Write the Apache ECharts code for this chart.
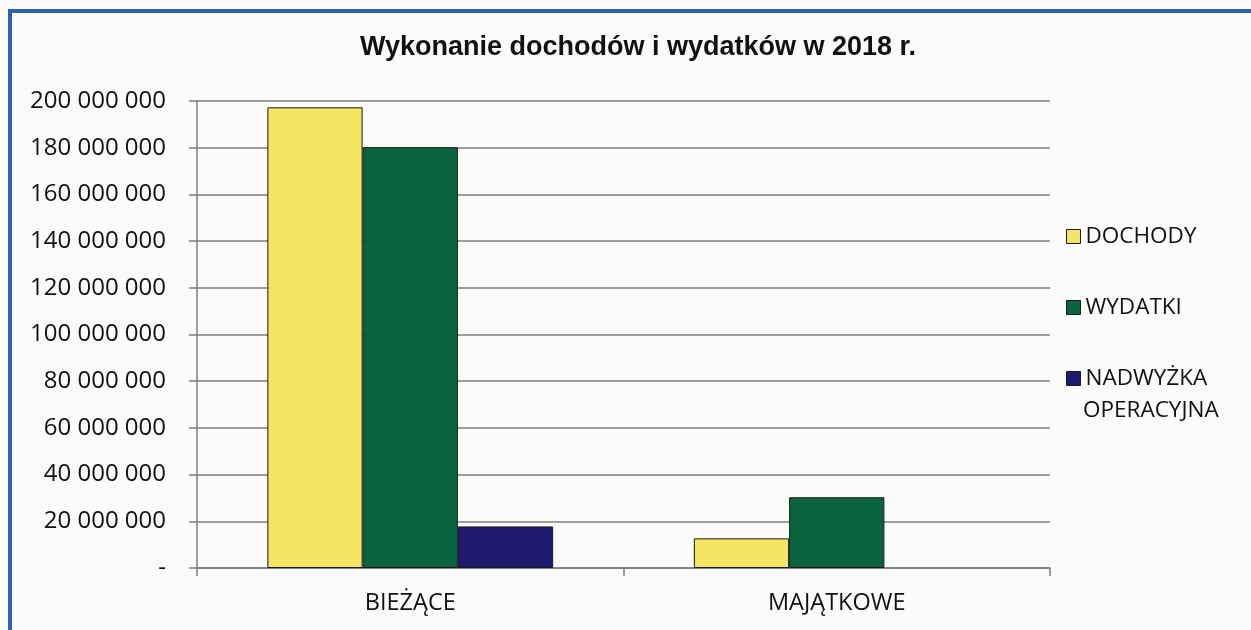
<!DOCTYPE html>
<html>
<head>
<meta charset="utf-8">
<script src="https://cdn.jsdelivr.net/npm/echarts@6/dist/echarts.min.js"></script>
<style>
  html, body { margin: 0; padding: 0; background: #fbfbfa; }
  #chart { width: 1251px; height: 630px; }
</style>
</head>
<body>
<div id="chart"></div>
<script>
const titleText = 'Wykonanie dochodów i wydatków w 2018 r.';
const categories = ['BIEŻĄCE', 'MAJĄTKOWE'];
const seriesNames = ['DOCHODY', 'WYDATKI', 'NADWYŻKA OPERACYJNA'];
const dochody = [197300000, 12700000];
const wydatki = [180200000, 30300000];
const nadwyzka = [17800000, null];
const yMin = 0;
const yMax = 200000000;
const yStep = 20000000;

const colors = ['#f6e465', '#0b6441', '#1b1a6c'];

function fmt(v) {
  if (v === 0) return '-';
  return String(v).replace(/\B(?=(\d{3})+(?!\d))/g, ' ');
}

const chart = echarts.init(document.getElementById('chart'), null, { renderer: 'canvas' });
const labelFont = '"Open Sans", sans-serif';
const barBorder = { borderColor: '#1a1a1a', borderWidth: 1 };

const option = {
  backgroundColor: '#fbfbfa',
  animation: false,
  title: {
    text: titleText,
    left: 633, textAlign: 'center',
    top: 29,
    textStyle: { fontFamily: '"Liberation Sans", Arial, sans-serif', fontWeight: 'bold', fontSize: 27, color: '#111' }
  },
  grid: { left: 197, right: 201, top: 101, bottom: 62 },
  legend: {
    orient: 'vertical',
    left: 1061, top: 220,
    icon: 'rect',
    itemWidth: 14, itemHeight: 14,
    itemGap: 48,
    itemStyle: { borderColor: '#1a1a1a', borderWidth: 1 },
    textStyle: { fontFamily: labelFont, fontSize: 22.5, color: '#111' },
    formatter: function (n) { return n === 'NADWYŻKA OPERACYJNA' ? 'NADWYŻKA' : n; },
    data: seriesNames
  },
  graphic: [
    {
      type: 'text', left: 1083, top: 399,
      style: { text: 'OPERACYJNA', font: '22.5px "Open Sans", sans-serif', fill: '#111' }
    },
    {
      type: 'rect', silent: true,
      shape: { x: 10, y: 11, width: 1300, height: 700 },
      style: { fill: 'none', stroke: '#2f63a7', lineWidth: 4 }
    }
  ],
  xAxis: {
    type: 'category',
    data: categories,
    axisLine: { lineStyle: { color: '#7f7f7f', width: 1.5 } },
    axisTick: { show: true, alignWithLabel: false, length: 8, lineStyle: { color: '#7f7f7f', width: 1.5 } },
    axisLabel: { fontFamily: labelFont, fontSize: 23.5, color: '#111', margin: 23 }
  },
  yAxis: {
    type: 'value',
    min: yMin, max: yMax, interval: yStep,
    axisLine: { show: true, lineStyle: { color: '#7f7f7f', width: 1.5 } },
    axisTick: { show: true, length: 8, lineStyle: { color: '#7f7f7f', width: 1.5 } },
    splitLine: { lineStyle: { color: '#7f7f7f', width: 1.5 } },
    axisLabel: { fontFamily: labelFont, fontSize: 24, color: '#111', margin: 31, formatter: fmt }
  },
  series: [
    { name: seriesNames[0], type: 'bar', data: dochody, barGap: '0%', barCategoryGap: '33%', itemStyle: Object.assign({ color: colors[0] }, barBorder) },
    { name: seriesNames[1], type: 'bar', data: wydatki, barGap: '0%', barCategoryGap: '33%', itemStyle: Object.assign({ color: colors[1] }, barBorder) },
    { name: seriesNames[2], type: 'bar', data: nadwyzka, barGap: '0%', barCategoryGap: '33%', itemStyle: Object.assign({ color: colors[2] }, barBorder) }
  ]
};
chart.setOption(option);
</script>
</body>
</html>
